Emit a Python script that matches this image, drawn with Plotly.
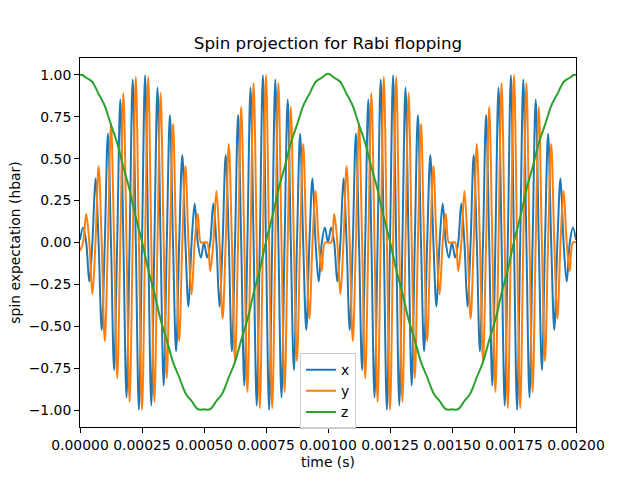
import numpy as np
import plotly.graph_objects as go

# time samples (s)
t_vals = np.linspace(0, 0.002, 161)

# <S_x>
sx_vals = [
    0.016, 0.09, 0.0, -0.233, 0.0, 0.383, 0.0, -0.522, 0.0, 0.649,
    0.0, -0.760, 0.0, 0.853, 0.0, -0.924, 0.0, 0.972, 0.0, -0.997,
    0.0, 0.997, 0.0, -0.972, 0.0, 0.924, 0.0, -0.853, 0.0, 0.760,
    0.0, -0.649, 0.0, 0.522, 0.0, -0.383, 0.0, 0.233, 0.0, -0.09,
    0.0, -0.09, 0.0, 0.233, 0.0, -0.383, 0.0, 0.522, 0.0, -0.649,
    0.0, 0.760, 0.0, -0.853, 0.0, 0.924, 0.0, -0.972, 0.0, 0.997,
    0.0, -0.997, 0.0, 0.972, 0.0, -0.924, 0.0, 0.853, 0.0, -0.760,
    0.0, 0.649, 0.0, -0.522, 0.0, 0.383, 0.0, -0.233, 0.0, 0.09,
    0.0, 0.09, 0.0, -0.233, 0.0, 0.383, 0.0, -0.522, 0.0, 0.649,
    0.0, -0.760, 0.0, 0.853, 0.0, -0.924, 0.0, 0.972, 0.0, -0.997,
    0.0, 0.997, 0.0, -0.972, 0.0, 0.924, 0.0, -0.853, 0.0, 0.760,
    0.0, -0.649, 0.0, 0.522, 0.0, -0.383, 0.0, 0.233, 0.0, -0.09,
    0.0, -0.09, 0.0, 0.233, 0.0, -0.383, 0.0, 0.522, 0.0, -0.649,
    0.0, 0.760, 0.0, -0.853, 0.0, 0.924, 0.0, -0.972, 0.0, 0.997,
    0.0, -0.997, 0.0, 0.972, 0.0, -0.924, 0.0, 0.853, 0.0, -0.760,
    0.0, 0.649, 0.0, -0.522, 0.0, 0.383, 0.0, -0.233, 0.0, 0.09,
    0.016,
]

# <S_y>
sy_vals = [
    -0.05, 0.0, 0.17, 0.0, -0.309, 0.0, 0.454, 0.0, -0.588, 0.0,
    0.707, 0.0, -0.809, 0.0, 0.891, 0.0, -0.951, 0.0, 0.988, 0.0,
    -1.0, 0.0, 0.988, 0.0, -0.951, 0.0, 0.891, 0.0, -0.809, 0.0,
    0.707, 0.0, -0.588, 0.0, 0.454, 0.0, -0.309, 0.0, 0.17, 0.0,
    0.0, 0.0, -0.17, 0.0, 0.309, 0.0, -0.454, 0.0, 0.588, 0.0,
    -0.707, 0.0, 0.809, 0.0, -0.891, 0.0, 0.951, 0.0, -0.988, 0.0,
    1.0, 0.0, -0.988, 0.0, 0.951, 0.0, -0.891, 0.0, 0.809, 0.0,
    -0.707, 0.0, 0.588, 0.0, -0.454, 0.0, 0.309, 0.0, -0.17, 0.0,
    0.0, 0.0, 0.17, 0.0, -0.309, 0.0, 0.454, 0.0, -0.588, 0.0,
    0.707, 0.0, -0.809, 0.0, 0.891, 0.0, -0.951, 0.0, 0.988, 0.0,
    -1.0, 0.0, 0.988, 0.0, -0.951, 0.0, 0.891, 0.0, -0.809, 0.0,
    0.707, 0.0, -0.588, 0.0, 0.454, 0.0, -0.309, 0.0, 0.17, 0.0,
    0.0, 0.0, -0.17, 0.0, 0.309, 0.0, -0.454, 0.0, 0.588, 0.0,
    -0.707, 0.0, 0.809, 0.0, -0.891, 0.0, 0.951, 0.0, -0.988, 0.0,
    1.0, 0.0, -0.988, 0.0, 0.951, 0.0, -0.891, 0.0, 0.809, 0.0,
    -0.707, 0.0, 0.588, 0.0, -0.454, 0.0, 0.309, 0.0, -0.17, 0.0,
    0.0,
]

# <S_z>
sz_vals = [
    1.0, 0.997, 0.982, 0.972, 0.957, 0.924, 0.885, 0.853, 0.815, 0.760,
    0.701, 0.649, 0.594, 0.522, 0.448, 0.383, 0.315, 0.233, 0.150, 0.078,
    0.006, -0.078, -0.162, -0.233, -0.303, -0.383, -0.460, -0.522, -0.582, -0.649,
    -0.713, -0.760, -0.803, -0.853, -0.897, -0.924, -0.945, -0.972, -0.994, -0.997,
    -0.994, -0.997, -0.994, -0.972, -0.945, -0.924, -0.897, -0.853, -0.803, -0.760,
    -0.713, -0.649, -0.582, -0.522, -0.460, -0.383, -0.303, -0.233, -0.162, -0.078,
    0.006, 0.078, 0.150, 0.233, 0.315, 0.383, 0.448, 0.522, 0.594, 0.649,
    0.701, 0.760, 0.815, 0.853, 0.885, 0.924, 0.957, 0.972, 0.982, 0.997,
    1.006, 0.997, 0.982, 0.972, 0.957, 0.924, 0.885, 0.853, 0.815, 0.760,
    0.701, 0.649, 0.594, 0.522, 0.448, 0.383, 0.315, 0.233, 0.150, 0.078,
    0.006, -0.078, -0.162, -0.233, -0.303, -0.383, -0.460, -0.522, -0.582, -0.649,
    -0.713, -0.760, -0.803, -0.853, -0.897, -0.924, -0.945, -0.972, -0.994, -0.997,
    -0.994, -0.997, -0.994, -0.972, -0.945, -0.924, -0.897, -0.853, -0.803, -0.760,
    -0.713, -0.649, -0.582, -0.522, -0.460, -0.383, -0.303, -0.233, -0.162, -0.078,
    0.006, 0.078, 0.150, 0.233, 0.315, 0.383, 0.448, 0.522, 0.594, 0.649,
    0.701, 0.760, 0.815, 0.853, 0.885, 0.924, 0.957, 0.972, 0.982, 0.997,
    1.0,
]

series_names = ["x", "y", "z"]
x_ticks = [0, 0.00025, 0.0005, 0.00075, 0.001, 0.00125, 0.0015, 0.00175, 0.002]
y_ticks = [-1.0, -0.75, -0.5, -0.25, 0.0, 0.25, 0.5, 0.75, 1.0]

colors = ["#1f77b4", "#ff7f0e", "#2ca02c"]
FONT = "DejaVu Sans"
FS = 13.9

fig = go.Figure()
for name, vals, c in zip(series_names, [sx_vals, sy_vals, sz_vals], colors):
    fig.add_trace(go.Scatter(x=t_vals, y=vals, mode="lines", name=name,
                             line=dict(color=c, width=2.0, shape="spline", smoothing=1.0)))

axis_common = dict(showline=True, linecolor="black", linewidth=1.1, mirror=True,
                   ticks="outside", ticklen=4.9, tickwidth=1.1, tickcolor="black",
                   showgrid=False, zeroline=False,
                   tickfont=dict(family=FONT, size=FS, color="black"))

fig.update_xaxes(range=[0, 0.002], tickvals=x_ticks, tickformat=".5f",
                 title=dict(text="time (s)", font=dict(family=FONT, size=FS, color="black"), standoff=5),
                 **axis_common)
fig.update_yaxes(range=[-1.1, 1.1], tickvals=y_ticks, tickformat=".2f",
                 title=dict(text="spin expectation (hbar)", font=dict(family=FONT, size=FS, color="black"), standoff=4),
                 **axis_common)

fig.update_layout(
    width=640, height=480,
    margin=dict(l=80, r=64, t=58, b=53),
    paper_bgcolor="white", plot_bgcolor="white",
    font=dict(family=FONT, size=FS, color="black"),
    title=dict(text="Spin projection for Rabi flopping", x=0.5, xref="paper",
               y=1 - 43 / 480, yref="container", yanchor="middle", xanchor="center",
               font=dict(family=FONT, size=16.7, color="black")),
    legend=dict(x=0.4435, y=0.2, xanchor="left", yanchor="top",
                bgcolor="rgba(255,255,255,0.8)", bordercolor="#cccccc", borderwidth=1,
                font=dict(family=FONT, size=FS, color="black"),
                itemwidth=30, tracegroupgap=0),
    showlegend=True,
)

fig.write_html("out.html")
